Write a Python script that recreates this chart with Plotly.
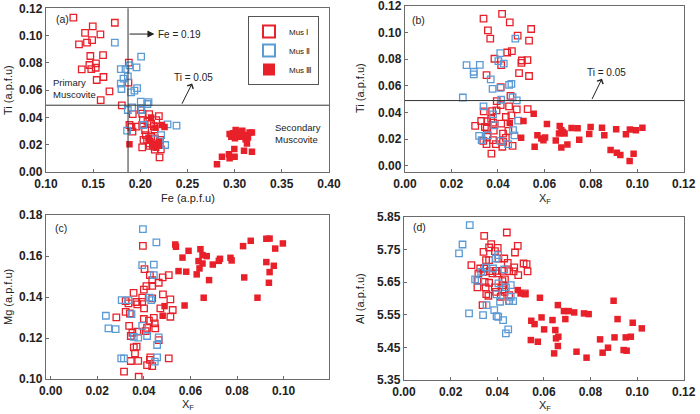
import plotly.graph_objects as go

# ---------------- data ----------------
# Panel (a): Fe vs Ti
a_mus1_fe = [0.129,0.173,0.1496,0.1414,0.1577,0.135,0.1435,0.1489,0.147,0.1605,0.146,0.153,0.1527,0.1379,0.148,0.1609,0.1538,0.1878,0.1874,0.1673,0.158,0.1804,0.2005,0.192,0.202,0.2094,0.2197,0.2027,0.1885,0.1906,0.196,0.2076,0.2115,0.2144,0.2169,0.202,0.1917,0.2051,0.215,0.2058,0.2072,0.2034,0.2115,0.2154,0.2097,0.2133,0.215,0.2154,0.2218,0.202,0.2097,0.221,0.2204]
a_mus1_ti = [0.1132,0.1095,0.1068,0.102,0.101,0.0936,0.0949,0.0968,0.0851,0.0858,0.0785,0.0797,0.0765,0.0753,0.0755,0.0697,0.0675,0.0802,0.0655,0.0592,0.0528,0.0489,0.0455,0.0425,0.0428,0.0425,0.041,0.0381,0.0345,0.033,0.0333,0.0369,0.0352,0.0337,0.0381,0.0345,0.0296,0.0308,0.0313,0.0271,0.0235,0.0235,0.0259,0.0247,0.021,0.0198,0.0186,0.0164,0.0166,0.0181,0.0191,0.0235,0.0108]
a_mus2_fe = [0.173,0.2009,0.1793,0.1843,0.196,0.1885,0.1868,0.1822,0.1793,0.18,0.1966,0.1938,0.1902,0.2005,0.2087,0.2076,0.1913,0.1868,0.2012,0.203,0.2289,0.2384,0.186,0.2144,0.2221,0.2264,0.221]
a_mus2_ti = [0.0949,0.0846,0.0755,0.0755,0.0768,0.0782,0.0702,0.0685,0.0648,0.0609,0.0616,0.0597,0.0584,0.0516,0.0513,0.0499,0.0474,0.0455,0.0455,0.0345,0.035,0.034,0.0303,0.024,0.0271,0.0198,0.021]
a_mus3_fe = [0.1885,0.2115,0.2161,0.2229,0.2257,0.2087,0.2104,0.2133,0.2197,0.2197,0.2169,0.2813,0.2866,0.294,0.2947,0.2997,0.30,0.31,0.3184,0.3131,0.3117,0.31,0.2947,0.2965,0.3011,0.3082,0.3159,0.2983,0.3036,0.3064,0.3184,0.3142,0.3004]
a_mus3_ti = [0.0203,0.0399,0.0325,0.0345,0.033,0.0252,0.023,0.021,0.0222,0.0193,0.0178,0.0056,0.0112,0.013,0.010,0.0169,0.0112,0.0156,0.0149,0.021,0.024,0.0271,0.0279,0.0259,0.0308,0.0303,0.0289,0.0284,0.0289,0.0259,0.0289,0.0254,0.0247]

# Panel (b): XF vs Ti
b_mus1_xf = [0.0338,0.0418,0.0451,0.0543,0.0357,0.0367,0.0485,0.0534,0.044,0.046,0.0385,0.0503,0.0527,0.0501,0.0414,0.0491,0.0351,0.0534,0.0412,0.0454,0.0395,0.0412,0.0448,0.0528,0.0481,0.0375,0.0394,0.0458,0.0434,0.0371,0.0328,0.0354,0.0379,0.0414,0.0302,0.0344,0.0352,0.0382,0.0422,0.0445,0.0354,0.0434,0.0379,0.0422,0.0337,0.0351,0.0391,0.0419,0.0463,0.0372,0.0339]
b_mus1_ti = [0.1103,0.114,0.1075,0.1026,0.1016,0.0954,0.0976,0.0939,0.085,0.086,0.0803,0.079,0.0793,0.0773,0.0756,0.0696,0.0681,0.0674,0.059,0.0525,0.0486,0.0456,0.0446,0.0426,0.0424,0.0411,0.0416,0.0379,0.0367,0.0354,0.0337,0.0335,0.0325,0.0317,0.030,0.0292,0.028,0.0265,0.0243,0.0263,0.0218,0.0211,0.0193,0.0181,0.0188,0.0164,0.0164,0.0144,0.0151,0.0092,0.0409]
b_mus2_xf = [0.0265,0.0322,0.0296,0.0296,0.041,0.0402,0.0425,0.0475,0.0369,0.0458,0.0448,0.0411,0.0377,0.0249,0.0414,0.0463,0.0481,0.0338,0.0379,0.0487,0.0385,0.0319,0.0357,0.0471,0.033,0.0411,0.0465,0.0444]
b_mus2_ti = [0.0756,0.0758,0.0706,0.0686,0.0845,0.0786,0.0766,0.0954,0.0649,0.0615,0.0607,0.0585,0.0577,0.0513,0.0496,0.0515,0.0491,0.0446,0.0387,0.034,0.0305,0.0226,0.023,0.023,0.0193,0.0188,0.0268,0.0164]
b_mus3_xf = [0.0554,0.051,0.0451,0.050,0.0558,0.057,0.0587,0.0603,0.0596,0.0611,0.0649,0.0666,0.0663,0.0673,0.0687,0.0673,0.0699,0.0717,0.0743,0.075,0.0793,0.0799,0.0848,0.0858,0.0885,0.0909,0.0912,0.0927,0.0967,0.0951,0.0968,0.0984,0.0994,0.1022,0.068]
b_mus3_ti = [0.0392,0.0337,0.0322,0.0211,0.0144,0.023,0.0206,0.0213,0.0193,0.0315,0.0191,0.030,0.0243,0.0268,0.0243,0.0139,0.0161,0.0285,0.0282,0.0196,0.024,0.0292,0.0287,0.023,0.0119,0.0275,0.0099,0.0082,0.0037,0.0238,0.0273,0.0092,0.0268,0.0287,0.0255]

# Panel (c): XF vs Mg
c_mus1_xf = [0.0396,0.0403,0.0426,0.0507,0.0481,0.0436,0.0464,0.0436,0.0411,0.040,0.0356,0.0482,0.0393,0.0436,0.0514,0.0322,0.0368,0.0393,0.0334,0.0372,0.0401,0.0471,0.0524,0.0322,0.034,0.0282,0.0443,0.0514,0.040,0.0422,0.0447,0.0337,0.0414,0.0449,0.0351,0.0372,0.0408,0.0344,0.0464,0.0357,0.0369,0.0362,0.0344,0.0376,0.0428,0.0507,0.0414,0.0436,0.0315,0.0378,0.0426]
c_mus1_mg = [0.165,0.1537,0.1507,0.1507,0.1496,0.1483,0.147,0.1455,0.1454,0.1437,0.1421,0.1413,0.1397,0.1394,0.1389,0.138,0.1376,0.1377,0.1369,0.1364,0.1345,0.1345,0.1337,0.1328,0.132,0.1301,0.1299,0.1304,0.1293,0.1285,0.1272,0.1259,0.125,0.1247,0.1226,0.1231,0.1234,0.121,0.119,0.1154,0.1158,0.1125,0.1088,0.1089,0.1106,0.1101,0.1068,0.1063,0.1036,0.1011,0.1093]
c_mus2_xf = [0.0396,0.0454,0.0393,0.0443,0.0443,0.0305,0.0334,0.0424,0.0432,0.0237,0.0347,0.0248,0.0279,0.0393,0.0414,0.0376,0.0464,0.0457,0.0303,0.0315,0.0457,0.0447,0.0357]
c_mus2_mg = [0.1732,0.1667,0.1556,0.1559,0.1507,0.1385,0.1385,0.1397,0.1385,0.1309,0.1317,0.1247,0.1244,0.1259,0.121,0.1202,0.1203,0.1166,0.1101,0.1101,0.1106,0.1085,0.1206]
c_mus3_xf = [0.0535,0.0538,0.0592,0.0566,0.0643,0.0652,0.067,0.0635,0.0652,0.0639,0.0549,0.0582,0.0627,0.0696,0.0722,0.0727,0.0772,0.0777,0.068,0.0657,0.0575,0.0489,0.0481,0.0826,0.0859,0.0831,0.0926,0.094,0.0926,0.094,0.0964,0.0997,0.0958,0.0937,0.0888]
c_mus3_mg = [0.1657,0.1646,0.1626,0.1593,0.1634,0.1605,0.160,0.1576,0.1564,0.154,0.1527,0.1524,0.1511,0.1559,0.1577,0.1587,0.1592,0.1579,0.1483,0.1397,0.1359,0.1356,0.1309,0.1649,0.1675,0.1496,0.1685,0.1686,0.1571,0.1522,0.1637,0.1662,0.1553,0.147,0.1397]

# Panel (d): XF vs Al
d_mus1_xf = [0.0344,0.0441,0.0374,0.0365,0.0402,0.0488,0.0341,0.0476,0.039,0.0352,0.0365,0.0405,0.043,0.0445,0.0513,0.0526,0.0473,0.0289,0.0327,0.0344,0.0341,0.0368,0.0394,0.042,0.0451,0.047,0.053,0.049,0.0379,0.040,0.0319,0.0315,0.0346,0.0365,0.0422,0.0433,0.035,0.039,0.0425,0.0353,0.0431,0.0362,0.0422,0.0451,0.0518,0.0415,0.0451,0.0337,0.0315,0.0394]
d_mus1_al = [5.7918,5.802,5.7663,5.7561,5.7551,5.7612,5.7429,5.7408,5.745,5.7173,5.7173,5.7224,5.7224,5.7092,5.7071,5.7051,5.6949,5.702,5.6918,5.6918,5.6816,5.6837,5.6847,5.6847,5.6837,5.6827,5.6827,5.6714,5.6765,5.6765,5.6765,5.6561,5.651,5.648,5.653,5.6582,5.6337,5.6337,5.6408,5.6133,5.6204,5.6082,5.6276,5.6102,5.6153,5.6051,5.5918,5.5796,5.6337,5.6204]
d_mus2_xf = [0.0282,0.0251,0.0236,0.0404,0.0394,0.0351,0.043,0.0382,0.0331,0.0305,0.0319,0.0458,0.0405,0.0437,0.0397,0.0458,0.0451,0.0468,0.0412,0.0354,0.0387,0.0279,0.0339,0.0397,0.0404,0.0425,0.0447,0.0437]
d_mus2_al = [5.8245,5.7653,5.7378,5.7327,5.7224,5.6949,5.6888,5.6918,5.6816,5.6582,5.6541,5.6408,5.6459,5.6337,5.6123,5.6051,5.5918,5.5918,5.5898,5.5796,5.5643,5.5541,5.549,5.5459,5.5439,5.5337,5.5051,5.4929]
d_mus3_xf = [0.0488,0.050,0.052,0.0583,0.066,0.0899,0.0686,0.0706,0.073,0.0772,0.0792,0.059,0.0546,0.056,0.0637,0.0692,0.0601,0.0649,0.0916,0.0981,0.102,0.0544,0.0574,0.0652,0.0662,0.066,0.0644,0.074,0.0783,0.0841,0.0852,0.0875,0.0903,0.0951,0.0973,0.0942,0.0955]
d_mus3_al = [5.6255,5.6153,5.6133,5.602,5.5796,5.5929,5.5612,5.5612,5.5571,5.5541,5.552,5.5418,5.5316,5.5214,5.5337,5.5367,5.5051,5.5031,5.5367,5.5255,5.5082,5.4724,5.4673,5.4776,5.4827,5.4541,5.4316,5.4367,5.4184,5.4745,5.4337,5.449,5.4806,5.4806,5.4827,5.4418,5.4398]

series_names = ["Mus Ⅰ", "Mus Ⅱ", "Mus Ⅲ"]
FE_LINE = 0.187
TI_LINE = 0.049

# ---------------- styles ----------------
RED = "#E8202A"
BLUE = "#5B9BD5"
AXC = "#6b6b6b"
FONT = "Liberation Sans"
W, H = 700, 414

styles = [
    dict(symbol="square-open", size=6.5, color=RED, line=dict(width=1.3, color=RED)),
    dict(symbol="square-open", size=6.5, color=BLUE, line=dict(width=1.3, color=BLUE)),
    dict(symbol="square", size=6.5, color=RED, line=dict(width=0, color=RED)),
]

fig = go.Figure()

panels = [
    ("x", "y", [(a_mus1_fe, a_mus1_ti), (a_mus2_fe, a_mus2_ti), (a_mus3_fe, a_mus3_ti)], True),
    ("x2", "y2", [(b_mus1_xf, b_mus1_ti), (b_mus2_xf, b_mus2_ti), (b_mus3_xf, b_mus3_ti)], False),
    ("x3", "y3", [(c_mus1_xf, c_mus1_mg), (c_mus2_xf, c_mus2_mg), (c_mus3_xf, c_mus3_mg)], False),
    ("x4", "y4", [(d_mus1_xf, d_mus1_al), (d_mus2_xf, d_mus2_al), (d_mus3_xf, d_mus3_al)], False),
]
for xa, ya, data, show in panels:
    for i, (xs, ys) in enumerate(data):
        fig.add_trace(go.Scatter(
            x=xs, y=ys, mode="markers", xaxis=xa, yaxis=ya,
            name=series_names[i], legendgroup=series_names[i], showlegend=show,
            marker=styles[i], hoverinfo="x+y"))

def px_x(p):
    return p / W

def px_y(p):
    return 1 - p / H

tickfont = dict(family=FONT, size=12, color="#222", weight="bold")

def axis(dom, rng, tick0, dtick, anchor, ticks="inside"):
    return dict(domain=dom, range=rng, tick0=tick0, dtick=dtick, anchor=anchor,
                automargin=False, ticklabeloverflow="allow",
                showline=True, mirror=True, linecolor=AXC, linewidth=1.4,
                ticks=ticks, ticklen=3, tickwidth=1, tickcolor=AXC,
                showgrid=False, zeroline=False, tickformat=".2f",
                tickfont=tickfont, fixedrange=True)

fig.update_layout(
    width=W, height=H, margin=dict(l=0, r=0, t=0, b=0, autoexpand=False),
    paper_bgcolor="white", plot_bgcolor="white",
    font=dict(family=FONT, size=10, color="#222"),
    xaxis=axis([px_x(46), px_x(329)], [0.10, 0.4001], 0.10, 0.05, "y"),
    yaxis=axis([px_y(172), px_y(8.3)], [0.0, 0.1201], 0.0, 0.02, "x"),
    xaxis2=axis([px_x(405), px_x(684)], [0.0, 0.1201], 0.0, 0.02, "y2"),
    yaxis2=axis([px_y(172), px_y(5.5)], [-0.0045, 0.1202], 0.0, 0.02, "x2"),
    xaxis3=axis([px_x(46), px_x(329)], [-0.002, 0.1195], 0.0, 0.02, "y3"),
    yaxis3=axis([px_y(379), px_y(215)], [0.10, 0.1801], 0.10, 0.02, "x3"),
    xaxis4=axis([px_x(404), px_x(684)], [0.0, 0.1201], 0.0, 0.02, "y4"),
    yaxis4=axis([px_y(380), px_y(216.7)], [5.35, 5.8505], 5.35, 0.1, "x4"),
    showlegend=True,
    legend=dict(x=px_x(319), y=px_y(16), xanchor="right", yanchor="top",
                bordercolor="#555", borderwidth=1, bgcolor="white",
                font=dict(family=FONT, size=8, color="#222"),
                itemwidth=30, tracegroupgap=0, itemsizing="constant"),
)

# threshold lines
fig.add_shape(type="line", xref="x", yref="y domain", x0=FE_LINE, x1=FE_LINE, y0=0, y1=1,
              line=dict(color="#333", width=1))
fig.add_shape(type="line", xref="x domain", yref="y", x0=0, x1=1, y0=TI_LINE, y1=TI_LINE,
              line=dict(color="#333", width=1))
fig.add_shape(type="line", xref="x2 domain", yref="y2", x0=0, x1=1, y0=TI_LINE, y1=TI_LINE,
              line=dict(color="#333", width=1))

ann = []
# arrows
ann.append(dict(xref="x", yref="y", axref="x", ayref="y", x=0.215, y=0.1012, ax=FE_LINE, ay=0.1012,
                text="", showarrow=True, arrowhead=2, arrowsize=1.4, arrowwidth=1, arrowcolor="#222"))
ann.append(dict(xref="x", yref="y", x=0.2165, y=0.1012, text="Fe = 0.19", showarrow=False,
                xanchor="left", font=dict(size=10)))
ann.append(dict(xref="x", yref="y", axref="x", ayref="y", x=0.255, y=0.065, ax=0.2434, ay=TI_LINE,
                text="", showarrow=True, arrowhead=4, arrowsize=1.3, arrowwidth=1, arrowcolor="#222"))
ann.append(dict(xref="x", yref="y", x=0.2565, y=0.0694, text="Ti = 0.05", showarrow=False,
                font=dict(size=10)))
ann.append(dict(xref="x2", yref="y2", axref="x2", ayref="y2", x=0.0848, y=0.0654, ax=0.0802, ay=TI_LINE,
                text="", showarrow=True, arrowhead=4, arrowsize=1.3, arrowwidth=1, arrowcolor="#222"))
ann.append(dict(xref="x2", yref="y2", x=0.0866, y=0.0701, text="Ti = 0.05", showarrow=False,
                font=dict(size=10)))

def paper_text(txt, x, y, size=10, xanchor="center", angle=0, **kw):
    ann.append(dict(xref="paper", yref="paper", x=px_x(x), y=px_y(y), text=txt, showarrow=False,
                    xanchor=xanchor, yanchor="middle", textangle=angle,
                    font=dict(family=FONT, size=size, color="#222"), **kw))

# region labels
paper_text("Primary<br>Muscovite", 51, 88.5, size=9.5, xanchor="left", align="left")
paper_text("Secondary<br>Muscovite", 273, 133, size=9.5, xanchor="left", align="left")
# panel labels
paper_text("(a)", 54, 19, size=10.5, xanchor="left")
paper_text("(b)", 410, 20, size=10.5, xanchor="left")
paper_text("(c)", 53, 228, size=10.5, xanchor="left")
paper_text("(d)", 411, 227, size=10.5, xanchor="left")
# axis titles
paper_text("Fe (a.p.f.u)", 188, 198, size=11)
paper_text("X<sub>F</sub>", 545, 199, size=11)
paper_text("X<sub>F</sub>", 188, 405, size=11)
paper_text("X<sub>F</sub>", 545, 406, size=11)
paper_text("Ti (a.p.f.u)", 8, 90, size=11, angle=-90)
paper_text("Ti (a.p.f.u)", 360, 88, size=11, angle=-90)
paper_text("Mg (a.p.f.u)", 8, 297, size=11, angle=-90)
paper_text("Al (a.p.f.u)", 360, 298, size=11, angle=-90)

fig.update_layout(annotations=ann)
fig.write_html("out.html", config={"displayModeBar": False},
               post_script="document.body.style.margin='0';document.body.style.padding='0';")
